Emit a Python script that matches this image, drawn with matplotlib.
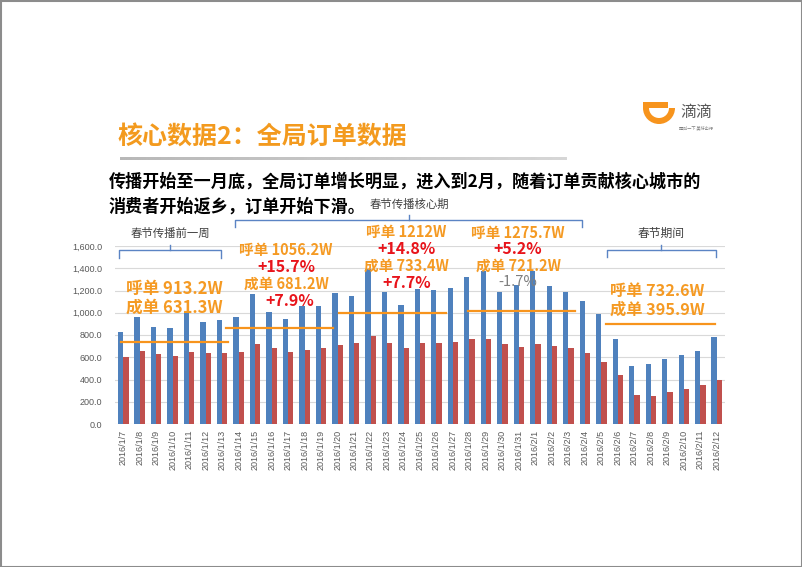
import numpy as np
import matplotlib.pyplot as plt
from matplotlib.patches import Rectangle, Wedge

plt.rcParams['font.family'] = ['Noto Sans CJK SC', 'DejaVu Sans']

dates = ['2016/1/7', '2016/1/8', '2016/1/9', '2016/1/10', '2016/1/11', '2016/1/12', '2016/1/13',
         '2016/1/14', '2016/1/15', '2016/1/16', '2016/1/17', '2016/1/18', '2016/1/19', '2016/1/20',
         '2016/1/21', '2016/1/22', '2016/1/23', '2016/1/24', '2016/1/25', '2016/1/26', '2016/1/27',
         '2016/1/28', '2016/1/29', '2016/1/30', '2016/1/31', '2016/2/1', '2016/2/2', '2016/2/3',
         '2016/2/4', '2016/2/5', '2016/2/6', '2016/2/7', '2016/2/8', '2016/2/9', '2016/2/10',
         '2016/2/11', '2016/2/12']
calls = [830, 966, 872, 866, 1002, 914, 935,
         960, 1173, 1011, 945, 1062, 1062, 1176,
         1155, 1393, 1188, 1074, 1209, 1206, 1221,
         1321, 1372, 1188, 1248, 1378, 1236, 1185,
         1110, 993, 761, 517, 535, 587, 620, 659, 782]
orders = [602, 653, 629, 608, 644, 635, 641,
          650, 719, 680, 644, 665, 680, 710,
          725, 791, 725, 683, 725, 731, 740,
          761, 767, 722, 689, 719, 698, 683,
          638, 556, 439, 262, 253, 289, 319, 349, 394]
yticks = [0, 200, 400, 600, 800, 1000, 1200, 1400, 1600]

# orange "average" lines (y value, first / last category position)
avg_y = [737, 866, 998, 1016, 899]
avg_x0 = [-0.12, 6.24, 13.1, 20.9, 29.3]
avg_x1 = [6.36, 12.73, 19.6, 27.4, 35.9]

BLUE = '#4F81BD'
RED = '#C0504D'
ORANGE = '#F59A23'
TXTRED = '#E8141B'

W, H = 802, 567
fig = plt.figure(figsize=(W / 100, H / 100), dpi=100)
ax = fig.add_axes([115 / W, (H - 424) / H, 610 / W, 178 / H])

x = np.arange(len(dates))
bw = 0.32
ax.bar(x - bw / 2, calls, bw, color=BLUE, zorder=2)
ax.bar(x + bw / 2, orders, bw, color=RED, zorder=2)
for y0, a, b in zip(avg_y, avg_x0, avg_x1):
    ax.plot([a, b], [y0, y0], color='#F7941D', lw=1.6, zorder=3)

ax.set_xlim(-0.5, len(dates) - 0.5)
ax.set_ylim(0, 1600)
ax.set_yticks(yticks)
ax.set_yticklabels(['{:,.1f}'.format(v) for v in yticks])
ax.set_xticks(x)
ax.set_xticklabels(dates, rotation=90)
ax.tick_params(axis='both', length=0, colors='#595959', labelsize=6.5)
ax.tick_params(axis='y', pad=9)
ax.tick_params(axis='x', pad=4)
for lab in ax.get_xticklabels() + ax.get_yticklabels():
    lab.set_family(['Liberation Sans', 'DejaVu Sans'])
ax.grid(axis='y', color='#D9D9D9', lw=0.8, zorder=0)
for s in ax.spines.values():
    s.set_visible(False)

# overlay in pixel coordinates for the slide decorations
ov = fig.add_axes([0, 0, 1, 1])
ov.axis('off')
ov.add_patch(Rectangle((0.5, 0.5), W - 1, H - 1, fill=False, ec='#8C8C8C', lw=1.5))
ov.imshow(np.linspace(0.72, 0.84, 200)[None, :], cmap='gray', vmin=0, vmax=1,
          extent=(120, 567, 160, 157), aspect='auto')

# logo
ov.add_patch(Rectangle((643, 102), 25, 6, color='#F7941D', lw=0))
ov.add_patch(Wedge((659, 108), 16, 0, 180, width=6, color='#F7941D', lw=0))
ov.text(696, 112, '滴滴', fontsize=11.5, color='#595959', ha='center', va='center')
ov.text(696, 128, '再叫一下 美好出行', fontsize=3, color='#7F7F7F', ha='center', va='center')

ov.text(118, 138, '核心数据2：全局订单数据', fontsize=18, fontweight='bold', color='#F39A1E',
        ha='left', va='center')
ov.text(109, 182, '传播开始至一月底，全局订单增长明显，进入到2月，随着订单贡献核心城市的',
        fontsize=12.3, fontweight='bold', color='black', ha='left', va='center')
ov.text(109, 207, '消费者开始返乡，订单开始下滑。',
        fontsize=12.3, fontweight='bold', color='black', ha='left', va='center')

# braces
def brace(x0, x1, xm, y, drop, rise):
    ov.plot([x0, x0, x1, x1], [y + drop, y, y, y + drop], color='#5B84C4', lw=1)
    ov.plot([xm, xm], [y, y - rise], color='#5B84C4', lw=1)

brace(119, 221, 170, 250, 8, 5)
brace(235, 582, 409, 220, 7, 5)
brace(607, 716, 661, 250, 7, 5)
ov.text(170, 233, '春节传播前一周', fontsize=8.2, color='#404040', ha='center', va='center')
ov.text(409, 204, '春节传播核心期', fontsize=8.2, color='#404040', ha='center', va='center')
ov.text(661, 233, '春节期间', fontsize=8.5, color='#404040', ha='center', va='center')

def lab(xc, yc, s, size, color):
    ov.text(xc, yc, s, fontsize=size, fontweight='bold', color=color, ha='center', va='center')

lab(174, 289, '呼单 913.2W', 12, ORANGE)
lab(174, 308, '成单 631.3W', 12, ORANGE)
lab(286, 250, '呼单 1056.2W', 10.5, ORANGE)
lab(286, 267, '+15.7%', 11.5, TXTRED)
lab(286, 284, '成单 681.2W', 10.5, ORANGE)
lab(290, 301, '+7.9%', 11.5, TXTRED)
lab(406, 232, '呼单 1212W', 10.5, ORANGE)
lab(407, 249, '+14.8%', 11.5, TXTRED)
lab(406, 266, '成单 733.4W', 10.5, ORANGE)
lab(407, 283, '+7.7%', 11.5, TXTRED)
lab(518, 233, '呼单 1275.7W', 10.5, ORANGE)
lab(518, 249, '+5.2%', 11.5, TXTRED)
lab(518, 266, '成单 721.2W', 10.5, ORANGE)
ov.text(518, 282, '-1.7%', fontsize=10.5, color='#7F7F7F', ha='center', va='center')
lab(657, 291, '呼单 732.6W', 11.7, ORANGE)
lab(657, 310, '成单 395.9W', 11.7, ORANGE)

ov.set_xlim(0, W)
ov.set_ylim(H, 0)

fig.savefig('out.png', dpi=100)
